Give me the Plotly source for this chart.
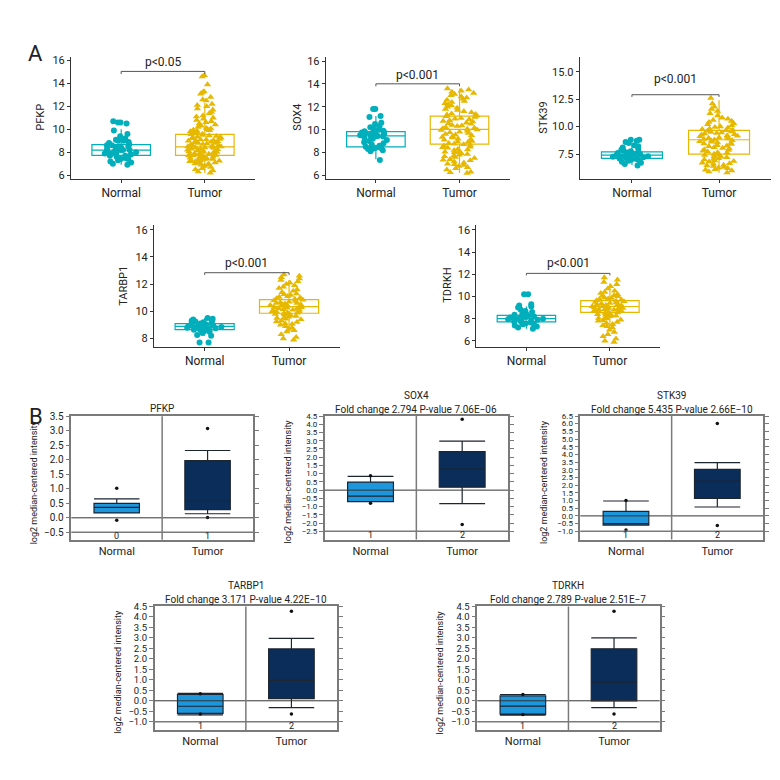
import numpy as np
import plotly.graph_objects as go

W = H = 780
FONT = "Roboto, Liberation Sans, Arial, sans-serif"
NORMAL_COL = "#00AFBB"
TUMOR_COL = "#E7B800"
B_NORMAL_FILL = "#1E96DC"
B_TUMOR_FILL = "#0B2D5A"
FRAME_COL = "#7a7a7a"
GROUPS = ["Normal", "Tumor"]

# ---------------- panel A: expression values
genes = ["PFKP", "SOX4", "STK39", "TARBP1", "TDRKH"]
a_pvals = ["p<0.05", "p<0.001", "p<0.001", "p<0.001", "p<0.001"]

pfkp_normal = [6.9, 7.0, 7.1, 7.2, 7.3, 7.4, 7.4, 7.5, 7.6, 7.7, 7.7, 7.8, 7.8, 7.9, 7.9,
               8.0, 8.0, 8.1, 8.1, 8.2, 8.2, 8.2, 8.3, 8.3, 8.4, 8.4, 8.5, 8.5, 8.6, 8.6,
               8.7, 8.8, 8.9, 9.0, 9.0, 9.1, 9.2, 9.4, 9.6, 9.9, 10.5, 10.6, 10.6, 10.7]
pfkp_tumor = [6.2, 6.3, 6.4, 6.5, 6.6, 6.7, 6.8, 6.9, 6.9, 7.0, 7.0, 7.1, 7.1, 7.2, 7.2,
              7.25, 7.3, 7.3, 7.35, 7.4, 7.4, 7.45, 7.5, 7.5, 7.55, 7.6, 7.6, 7.65, 7.7,
              7.7, 7.75, 7.8, 7.8, 7.85, 7.9, 7.9, 7.95, 8.0, 8.0, 8.05, 8.1, 8.1, 8.15,
              8.2, 8.2, 8.25, 8.3, 8.3, 8.35, 8.4, 8.4, 8.45, 8.5, 8.5, 8.55, 8.6, 8.6,
              8.65, 8.7, 8.75, 8.8, 8.8, 8.85, 8.9, 8.95, 9.0, 9.0, 9.05, 9.1, 9.1, 9.15,
              9.2, 9.25, 9.3, 9.3, 9.35, 9.4, 9.45, 9.5, 9.55, 9.6, 9.65, 9.7, 9.75, 9.8,
              9.85, 9.9, 9.95, 10.0, 10.05, 10.1, 10.2, 10.3, 10.4, 10.5, 10.6, 10.7, 10.8,
              10.9, 11.0, 11.1, 11.2, 11.4, 11.5, 11.7, 11.8, 12.0, 12.1, 12.2, 12.5, 12.6,
              12.8, 13.1, 13.2, 13.3, 13.9, 14.6, 14.7]
sox4_normal = [7.35, 8.1, 8.2, 8.3, 8.35, 8.4, 8.4, 8.45, 8.5, 8.5, 8.6, 8.7, 8.8, 8.9, 9.0,
               9.1, 9.2, 9.3, 9.35, 9.4, 9.4, 9.45, 9.5, 9.5, 9.55, 9.6, 9.6, 9.7, 9.7, 9.75,
               9.8, 9.85, 9.9, 10.0, 10.1, 10.2, 10.3, 10.5, 10.6, 11.1, 11.2, 11.8, 11.8]
sox4_tumor = [6.2, 6.25, 6.3, 6.5, 6.6, 6.7, 6.8, 6.9, 6.95, 7.0, 7.1, 7.2, 7.3, 7.35, 7.4,
              7.5, 7.6, 7.65, 7.7, 7.8, 7.85, 7.9, 8.0, 8.05, 8.1, 8.2, 8.25, 8.3, 8.4,
              8.45, 8.5, 8.6, 8.65, 8.7, 8.75, 8.8, 8.9, 8.95, 9.0, 9.1, 9.15, 9.2, 9.3,
              9.35, 9.4, 9.5, 9.55, 9.6, 9.7, 9.75, 9.8, 9.9, 9.95, 10.0, 10.05, 10.1,
              10.15, 10.2, 10.3, 10.35, 10.4, 10.5, 10.55, 10.6, 10.7, 10.75, 10.8, 10.9,
              10.95, 11.0, 11.1, 11.15, 11.2, 11.3, 11.35, 11.4, 11.5, 11.6, 11.7, 11.8,
              11.9, 12.0, 12.1, 12.2, 12.3, 12.4, 12.5, 12.6, 12.7, 12.8, 12.9, 13.0, 13.1,
              13.2, 13.3, 13.4, 13.5, 13.6]
stk39_normal = [6.45, 6.6, 6.7, 6.8, 6.9, 6.95, 7.0, 7.05, 7.1, 7.1, 7.15, 7.2, 7.2, 7.25,
                7.3, 7.3, 7.35, 7.4, 7.4, 7.45, 7.5, 7.5, 7.55, 7.6, 7.6, 7.65, 7.7, 7.75,
                7.8, 7.9, 8.0, 8.1, 8.2, 8.3, 8.5, 8.6, 8.7, 8.8, 8.8]
stk39_tumor = [5.8, 5.9, 6.0, 6.05, 6.1, 6.2, 6.25, 6.3, 6.4, 6.45, 6.5, 6.6, 6.65, 6.7, 6.8,
               6.85, 6.9, 7.0, 7.05, 7.1, 7.2, 7.25, 7.3, 7.4, 7.45, 7.5, 7.6, 7.65, 7.7,
               7.8, 7.85, 7.9, 8.0, 8.05, 8.1, 8.2, 8.25, 8.3, 8.4, 8.45, 8.5, 8.55, 8.6,
               8.65, 8.7, 8.75, 8.8, 8.85, 8.9, 8.95, 9.0, 9.05, 9.1, 9.15, 9.2, 9.25, 9.3,
               9.35, 9.4, 9.45, 9.5, 9.55, 9.6, 9.65, 9.7, 9.75, 9.8, 9.9, 9.95, 10.0,
               10.1, 10.2, 10.3, 10.4, 10.5, 10.6, 10.7, 10.8, 11.0, 11.2, 11.4, 11.6, 11.8,
               12.1, 12.6]
tarbp1_normal = [7.7, 7.7, 8.2, 8.25, 8.4, 8.5, 8.55, 8.6, 8.62, 8.65, 8.7, 8.72, 8.75, 8.8,
                 8.82, 8.85, 8.88, 8.9, 8.9, 8.92, 8.95, 9.0, 9.0, 9.05, 9.08, 9.1, 9.15,
                 9.2, 9.25, 9.3, 9.35, 9.4, 9.45, 9.5]
tarbp1_tumor = [7.9, 8.0, 8.1, 8.3, 8.5, 8.6, 8.7, 8.8, 8.9, 9.0, 9.05, 9.1, 9.2, 9.25, 9.3,
                9.4, 9.45, 9.5, 9.55, 9.6, 9.65, 9.7, 9.75, 9.8, 9.82, 9.85, 9.88, 9.9,
                9.95, 10.0, 10.0, 10.05, 10.1, 10.1, 10.15, 10.2, 10.2, 10.25, 10.3, 10.3,
                10.35, 10.4, 10.4, 10.45, 10.5, 10.5, 10.55, 10.6, 10.6, 10.65, 10.7, 10.75,
                10.8, 10.85, 10.9, 10.95, 11.0, 11.05, 11.1, 11.2, 11.25, 11.3, 11.4, 11.5,
                11.6, 11.7, 11.8, 11.9, 12.0, 12.1, 12.2, 12.3, 12.4, 12.5, 12.6, 12.7]
tdrkh_normal = [7.1, 7.2, 7.3, 7.4, 7.5, 7.55, 7.6, 7.65, 7.7, 7.75, 7.8, 7.85, 7.9, 7.95,
                8.0, 8.0, 8.05, 8.1, 8.1, 8.15, 8.2, 8.25, 8.3, 8.35, 8.4, 8.5, 8.6, 8.7,
                8.8, 9.0, 9.1, 9.2, 9.3, 10.2, 10.2]
tdrkh_tumor = [5.9, 6.0, 6.2, 6.4, 6.6, 6.8, 7.0, 7.2, 7.3, 7.4, 7.5, 7.6, 7.7, 7.8, 7.85,
               7.9, 8.0, 8.05, 8.1, 8.2, 8.25, 8.3, 8.35, 8.4, 8.45, 8.5, 8.55, 8.6, 8.62,
               8.65, 8.7, 8.72, 8.75, 8.8, 8.82, 8.85, 8.9, 8.92, 8.95, 9.0, 9.02, 9.05,
               9.1, 9.12, 9.15, 9.2, 9.22, 9.25, 9.3, 9.35, 9.4, 9.45, 9.5, 9.55, 9.6, 9.65,
               9.7, 9.75, 9.8, 9.85, 9.9, 10.0, 10.05, 10.1, 10.2, 10.3, 10.4, 10.5, 10.7,
               10.9, 11.1, 11.3, 11.5, 11.7]

a_normal = [pfkp_normal, sox4_normal, stk39_normal, tarbp1_normal, tdrkh_normal]
a_tumor = [pfkp_tumor, sox4_tumor, stk39_tumor, tarbp1_tumor, tdrkh_tumor]

# box stats per gene: lower whisker, q1, median, q3, upper whisker
a_box_normal = [[6.9, 7.72, 8.18, 8.67, 10.0],
                [7.4, 8.50, 9.45, 9.83, 11.2],
                [6.5, 7.10, 7.40, 7.70, 8.5],
                [8.2, 8.65, 8.89, 9.10, 9.5],
                [7.1, 7.72, 8.00, 8.30, 9.1]]
a_box_tumor = [[6.2, 7.72, 8.47, 9.56, 12.3],
               [6.2, 8.73, 10.03, 11.19, 13.6],
               [5.8, 7.50, 8.80, 9.66, 12.4],
               [8.4, 9.86, 10.35, 10.86, 12.3],
               [7.0, 8.57, 9.10, 9.62, 11.2]]

# ---------------- panel B: Oncomine box plots (estimated)
b_subtitles = ["", "Fold change 2.794 P-value 7.06E\u221206",
               "Fold change 5.435 P-value 2.66E\u221210",
               "Fold change 3.171 P-value 4.22E\u221210",
               "Fold change 2.789 P-value 2.51E\u22127"]
b_strip = [["0", "1"], ["1", "2"], ["1", "2"], ["1", "2"], ["1", "2"]]
b_box_normal = [[0.17, 0.17, 0.36, 0.50, 0.65],
                [-0.70, -0.70, -0.36, 0.49, 0.83],
                [-0.60, -0.60, -0.50, 0.30, 0.97],
                [-0.67, -0.60, -0.26, 0.30, 0.35],
                [-0.68, -0.64, -0.25, 0.23, 0.30]]
b_box_tumor = [[0.14, 0.28, 0.57, 1.97, 2.32],
               [-0.82, 0.18, 1.27, 2.34, 2.98],
               [0.58, 1.14, 2.26, 3.03, 3.47],
               [-0.33, 0.10, 0.97, 2.47, 2.98],
               [-0.33, 0.00, 0.89, 2.48, 3.00]]
b_extremes_normal = [[1.02, -0.08], [0.87, -0.80], [1.00, -0.92], [0.33, -0.63], [0.30, -0.65]]
b_extremes_tumor = [[3.08, 0.01], [4.30, -2.08], [6.02, -0.62], [4.27, -0.63], [4.27, -0.63]]
b_tick_lo = [-0.5, -2.5, -1.0, -1.0, -1.0]
b_tick_hi = [3.5, 4.5, 6.5, 4.5, 4.5]


def px(x):
    return x / W


def py(y):
    return 1 - y / H


def note(x, y, text, size, **kw):
    # paper-positioned text, given in pixels
    return dict(x=px(x), y=py(y), xref="paper", yref="paper", text=text,
                showarrow=False, xanchor="center", yanchor="middle",
                font=dict(size=size, color="#222"), **kw)


# layout geometry in pixels: x0, x1, ytop, ybottom, y range, dtick, tick format, title x
A_GEOM = [
    (63, 247, 43, 167, [5.66, 16.35], 2, "d", 33),
    (317.7, 501.7, 43, 166.7, [5.7, 16.4], 2, "d", 290),
    (571.7, 763.3, 43, 166.7, [5.25, 16.38], 2.5, ".1f", 536),
    (146, 331.7, 213.3, 336.7, [7.39, 16.36], 2, "d", 116),
    (468.3, 652, 213.3, 336.7, [5.47, 16.45], 2, "d", 440),
]
# bracket bar y, bracket end y, p label y (data units)
A_BRACKET = [(15.05, 14.82, 15.85), (14.01, 13.79, 14.8), (12.9, 12.7, 14.3),
             (12.84, 12.68, 13.57), (12.08, 11.9, 13.03)]
# x0, x1, ytop, ybottom, y range, tick font size
B_GEOM = [
    (63.3, 245, 407, 532, [-0.76, 3.5], 10),
    (316.7, 500, 406.7, 531.7, [-3.0, 4.5], 8),
    (572.3, 755, 406.7, 531.7, [-1.54, 6.5], 8),
    (146.7, 329, 599.3, 724.3, [-1.39, 4.5], 9.5),
    (469.3, 651.6, 599.3, 724.3, [-1.39, 4.5], 9.5),
]

fig = go.Figure()
layout = {}
annotations = []
shapes = []

# ---------------- panel A
for i in range(5):
    n = i + 1
    xa, ya = f"x{n}", f"y{n}"
    x0, x1, yt, yb, yr, dt, tf, tx = A_GEOM[i]
    for grp, vals, col, sym in [("Normal", a_normal[i], NORMAL_COL, "circle"),
                                ("Tumor", a_tumor[i], TUMOR_COL, "triangle-up")]:
        fig.add_trace(go.Box(
            x=[grp] * len(vals), y=vals, xaxis=xa, yaxis=ya,
            boxpoints="all", jitter=1, pointpos=0, width=0.45,
            line=dict(width=0), fillcolor="rgba(0,0,0,0)",
            marker=dict(color=col, symbol=sym, size=6 if sym == "circle" else 6.5),
            showlegend=False, hoverinfo="skip",
        ))
    for grp, st, col in [("Normal", a_box_normal[i], NORMAL_COL),
                         ("Tumor", a_box_tumor[i], TUMOR_COL)]:
        fig.add_trace(go.Box(
            x=[grp], lowerfence=[st[0]], q1=[st[1]], median=[st[2]], q3=[st[3]],
            upperfence=[st[4]], xaxis=xa, yaxis=ya, width=0.7, whiskerwidth=0,
            line=dict(color=col, width=1.2), fillcolor="rgba(255,255,255,0)",
            showlegend=False, hoverinfo="skip",
        ))
    layout[f"xaxis{n}"] = dict(
        domain=[px(x0), px(x1)], anchor=ya, type="category",
        categoryorder="array", categoryarray=GROUPS, range=[-0.6, 1.6],
        showline=True, linecolor="#333", linewidth=1, ticks="outside", ticklen=3,
        tickcolor="#333", tickfont=dict(size=12, color="#222"), showgrid=False,
        zeroline=False,
    )
    layout[f"yaxis{n}"] = dict(
        domain=[py(yb), py(yt)], anchor=xa, range=yr, dtick=dt, tick0=0,
        tickformat=tf, showline=True, linecolor="#333", linewidth=1,
        ticks="outside", ticklen=3, tickcolor="#333",
        tickfont=dict(size=11, color="#222"), showgrid=False, zeroline=False,
    )
    annotations.append(note(tx, (yt + yb) / 2, genes[i], 11, textangle=-90))
    bar, end, ty = A_BRACKET[i]
    for (sx0, sy0, sx1, sy1) in [(0, end, 0, bar), (0, bar, 1, bar), (1, bar, 1, end)]:
        shapes.append(dict(type="line", xref=xa, yref=ya, x0=sx0, y0=sy0, x1=sx1, y1=sy1,
                           line=dict(color="#555", width=1)))
    annotations.append(dict(x=0.5, y=ty, xref=xa, yref=ya, text=a_pvals[i],
                            showarrow=False, xanchor="center", yanchor="middle",
                            font=dict(size=12, color="#222")))

# ---------------- panel B
for i in range(5):
    n = i + 6
    xa, ya = f"x{n}", f"y{n}"
    x0, x1, yt, yb, yr, tfs = B_GEOM[i]
    for grp, st, fill in [("Normal", b_box_normal[i], B_NORMAL_FILL),
                          ("Tumor", b_box_tumor[i], B_TUMOR_FILL)]:
        fig.add_trace(go.Box(
            x=[grp], lowerfence=[st[0]], q1=[st[1]], median=[st[2]], q3=[st[3]],
            upperfence=[st[4]], xaxis=xa, yaxis=ya, width=0.5, whiskerwidth=1,
            line=dict(color="#1c2530", width=1.2), fillcolor=fill,
            showlegend=False, hoverinfo="skip",
        ))
    fig.add_trace(go.Scatter(
        x=["Normal", "Normal", "Tumor", "Tumor"],
        y=b_extremes_normal[i] + b_extremes_tumor[i],
        mode="markers", xaxis=xa, yaxis=ya,
        marker=dict(color="#111", size=3.5), showlegend=False, hoverinfo="skip"))
    lo, hi = b_tick_lo[i], b_tick_hi[i]
    tickvals = [round(v, 2) for v in np.arange(lo, hi + 0.01, 0.5)]
    layout[f"xaxis{n}"] = dict(
        domain=[px(x0), px(x1)], anchor=ya, type="category",
        categoryorder="array", categoryarray=GROUPS, range=[-0.5, 1.5],
        showline=True, mirror=True, linecolor=FRAME_COL, linewidth=1.5,
        ticks="", tickfont=dict(size=11, color="#222"), showgrid=False, zeroline=False,
    )
    layout[f"yaxis{n}"] = dict(
        domain=[py(yb), py(yt)], anchor=xa, range=yr, tickmode="array",
        tickvals=tickvals, tickformat=".1f", showline=True, mirror="ticks",
        linecolor=FRAME_COL, linewidth=1.5, ticks="outside", ticklen=4,
        tickcolor=FRAME_COL, tickfont=dict(size=tfs, color="#222"),
        showgrid=False, zeroline=False,
    )
    # zero line, strip line and group divider
    shapes.append(dict(type="line", xref=f"{xa} domain", yref=ya, x0=0, x1=1, y0=0, y1=0,
                       line=dict(color="#333", width=1)))
    shapes.append(dict(type="line", xref=f"{xa} domain", yref=ya, x0=0, x1=1, y0=lo, y1=lo,
                       line=dict(color=FRAME_COL, width=1.5)))
    shapes.append(dict(type="line", xref=xa, yref=f"{ya} domain", x0=0.5, x1=0.5, y0=0, y1=1,
                       line=dict(color=FRAME_COL, width=1.5)))
    for k, lab in enumerate(b_strip[i]):
        annotations.append(dict(x=k, y=(lo + yr[0]) / 2, xref=xa, yref=ya, text=lab,
                                showarrow=False, xanchor="center", yanchor="middle",
                                font=dict(size=9, color="#222")))
    annotations.append(note(x0 - 37, (yt + yb) / 2 + 4, "log2 median-centered intensity",
                            9, textangle=-90))
    cx = (x0 + x1) / 2
    if b_subtitles[i]:
        annotations.append(note(cx, yt - 21, genes[i], 10))
        annotations.append(note(cx, yt - 7, b_subtitles[i], 10))
    else:
        annotations.append(note(cx, yt - 8, genes[i], 10))

annotations.append(note(27, 40, "A", 22))
annotations.append(note(28, 407, "B", 22))

fig.update_layout(
    width=W, height=H, margin=dict(l=0, r=0, t=0, b=0),
    paper_bgcolor="white", plot_bgcolor="white",
    font=dict(family=FONT, color="#222"),
    boxmode="overlay", showlegend=False,
    annotations=annotations, shapes=shapes,
    **layout,
)

fig.write_html("out.html")
